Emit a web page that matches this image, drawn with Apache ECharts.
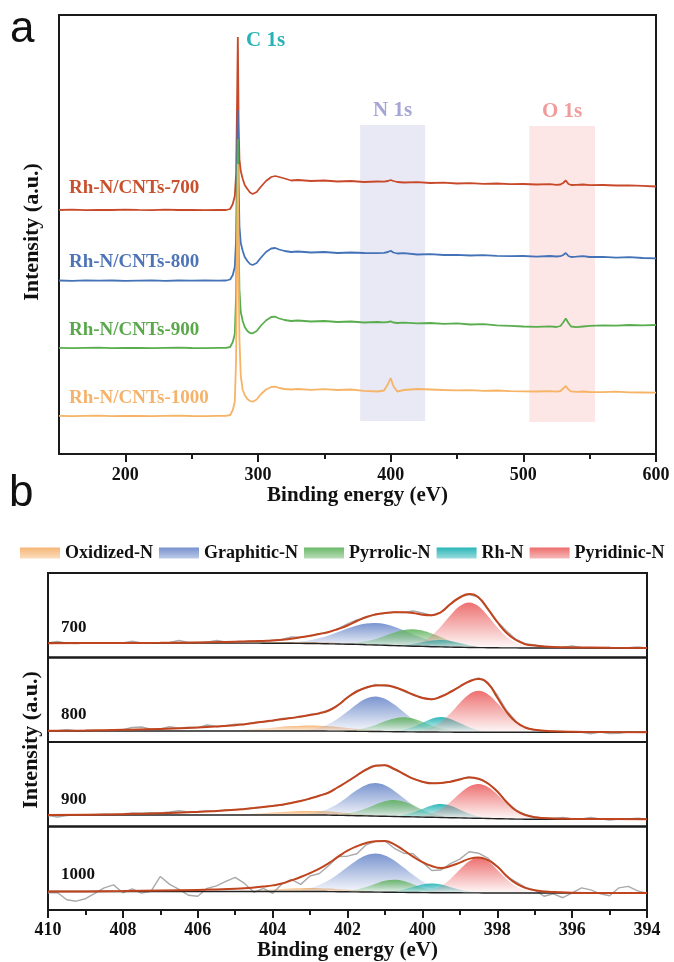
<!DOCTYPE html>
<html>
<head>
<meta charset="utf-8">
<script src="https://cdn.jsdelivr.net/npm/echarts@6/dist/echarts.min.js"></script>
<style>
  html, body { margin: 0; padding: 0; background: #fff; }
  #chart { width: 674px; height: 962px; }
</style>
</head>
<body>
<div id="chart"></div>
<script>
// ---------- (a) XPS survey spectra ----------
const surveyEV = [150,160,170,180,190,200,210,220,230,240,250,260,270,276,279,281,282.5,283.5,284.2,284.8,285.4,286,287,288.5,290,292,294,296,299,302,306,310,313,316,320,325,330,340,350,360,370,380,390,395,398,400,402,405,410,420,430,440,450,460,470,480,490,500,510,520,525,528,530,532,534,536,540,545,550,560,570,580,590,600];

const survey700 = [244.0,244.3,243.8,244.2,244.0,244.4,244.1,243.9,244.3,244.0,244.2,243.8,244.2,244.0,245.0,250,258,280,350,417,330,295,283,275,269,265,261.5,260,262,267,273,277,278,277,275.5,273.5,274,273,273.5,272.5,273,272,272.5,272.3,273.0,274,273.0,272.0,271.5,271.8,271,271.3,270.5,270.8,270.2,270.5,269.8,270,269.5,269.8,269.2,269.5,271,273.5,270,269,269.2,269.5,268.8,269,268.5,268.6,268.2,267.5];
const survey800 = [173.5,173.2,173.6,173.3,173.5,173.1,173.4,173.6,173.2,173.5,173.3,173.6,173.4,173.5,174.5,179,187,215,290,344,270,228,211,203,197,193,190,189,191,196,202,205.5,206,204.5,203,202,202.5,201.5,202,201,201.5,201,200.8,201.2,202,203.2,201.5,200.5,200.8,199.5,199.8,199,199.2,198.5,198.8,198.2,197.8,198,197.4,198,197.5,197.8,199,201,198,197,197.3,197.8,197,197.2,196.4,196.8,196.0,195.6];
const survey900 = [106.2,105.9,106.1,106.3,105.8,106.0,106.2,105.9,106.1,106.3,106.0,105.8,106.1,106.2,107,112,120,160,250,315,215,165,142,133,127,123,121,120.7,123,128,133.5,137,137.3,135.5,134,133,133.5,132.5,133,132,132.5,131.5,132,131.6,132,132.6,131.5,131,131.3,130.6,131,130.2,130.6,129.5,129.8,128.6,128.2,127.5,127.2,127.6,127,128,131.5,135.5,131,127.5,126.8,127.5,128.2,128.6,128.3,129,128.7,129];
const survey1000 = [38.2,37.9,38.1,38.3,37.8,38.0,38.2,37.9,38.1,38.3,38.0,37.8,38.1,38.2,39,44,52,95,210,290,180,115,78,64,59,55,53,52.3,54.5,59.5,64.5,67,67.3,66,65,64.5,65,64.2,64.8,64,64.5,63.2,62.5,63.5,70,76,68,62.5,64,65,64.5,64,63.6,63.8,63.2,63.5,62.8,62.7,62.5,62.8,62.3,63,65.5,68,64.5,62.6,62.2,62.5,62,61.8,62.3,61.7,61.5,61.3];

const surveyNames = ['Rh-N/CNTs-700', 'Rh-N/CNTs-800', 'Rh-N/CNTs-900', 'Rh-N/CNTs-1000'];
const surveyTicks = [200, 300, 400, 500, 600];
const surveyMinorTicks = [250, 350, 450, 550];

// ---------- (b) N 1s high-resolution spectra ----------
const nBE = [410,409,408,407,406,405.5,405,404.75,404.5,404.25,404,403.75,403.5,403.25,403,402.75,402.5,402.25,402,401.75,401.5,401.25,401,400.75,400.5,400.25,400,399.75,399.5,399.25,399,398.75,398.5,398.25,398,397.75,397.5,397.25,397,396.5,396,395,394];
const rawBE = [410,409.75,409.5,409.25,409,408.75,408.5,408.25,408,407.75,407.5,407.25,407,406.75,406.5,406.25,406,405.75,405.5,405.25,405,404.75,404.5,404.25,404,403.75,403.5,403.25,403,402.75,402.5,402.25,402,401.75,401.5,401.25,401,400.75,400.5,400.25,400,399.75,399.5,399.25,399,398.75,398.5,398.25,398,397.75,397.5,397.25,397,396.75,396.5,396.25,396,395.75,395.5,395.25,395,394.75,394.5,394.25,394];
const compBE = nBE.slice(6, 39);   // 405 ... 397 eV, where the fitted components live

// Shirley-type backgrounds
const baseline700 = [14.5,14.5,14.5,14.5,14.5,14.5,14.4,14.4,14.4,14.3,14.3,14.2,14.2,14.1,14.0,13.9,13.7,13.5,13.3,13.1,12.8,12.5,12.2,11.9,11.6,11.3,11.1,10.8,10.6,10.4,10.2,10.0,9.9,9.8,9.7,9.6,9.6,9.5,9.5,9.5,9.5,9.5,9.5];
const baseline800 = [11.0,11.0,11.0,11.0,11.0,11.0,11.0,11.0,11.0,11.0,11.0,11.0,11.0,11.0,11.0,10.95,10.9,10.85,10.8,10.7,10.6,10.5,10.4,10.3,10.2,10.1,10.0,9.95,9.9,9.85,9.8,9.75,9.7,9.7,9.7,9.7,9.7,9.7,9.7,9.7,9.7,9.7,9.7];
const baseline900 = [11.5,11.5,11.5,11.5,11.5,11.5,11.5,11.5,11.5,11.5,11.5,11.5,11.5,11.5,11.5,11.5,11.4,11.2,11.0,10.8,10.6,10.4,10.2,10.0,9.8,9.6,9.4,9.2,9.0,8.8,8.6,8.4,8.2,8.0,7.8,7.6,7.4,7.3,7.2,7.2,7.2,7.2,7.2];
const baseline1000 = [18.8,18.8,18.8,18.8,18.8,18.8,18.8,18.8,18.8,18.8,18.8,18.8,18.8,18.8,18.8,18.8,18.7,18.6,18.5,18.4,18.3,18.2,18.1,18.0,17.9,17.8,17.7,17.6,17.6,17.5,17.5,17.4,17.4,17.3,17.3,17.3,17.3,17.3,17.3,17.3,17.3,17.3,17.3];

// fitted envelopes
const envelope700 = [14.3,14.4,14.5,14.7,15.1,15.4,15.8,16.0,16.3,16.6,17.0,17.8,18.8,20.2,21.8,23.5,25.5,28.5,32.0,36.5,40.5,43.0,44.5,45.2,45.2,44.6,42.8,42.3,45.5,53.5,60.0,63.5,60.0,48.6,35.5,24.5,17.5,13.3,12.0,10.6,10.1,9.8,9.6];
const envelope800 = [11.2,11.5,12.2,13.0,14.5,15.5,16.8,17.8,19.0,20.3,21.5,22.8,24.0,25.5,27.0,28.8,31.5,37.0,44.5,50.5,54.5,56.5,56.8,54.8,51.5,47.5,44.0,42.8,45.5,50.0,55.5,60.5,63.0,58.5,44.5,30.0,20.0,14.5,12.2,10.8,10.2,9.9,9.8];
const envelope900 = [11.5,11.8,12.3,13.2,14.6,15.6,16.8,17.6,18.5,19.5,20.5,21.8,23.5,25.5,28.0,30.8,34.0,39.5,45.0,51.0,57.0,60.8,61.2,57.5,52.5,47.8,44.8,43.2,43.5,44.8,47.0,49.0,47.8,43.0,35.0,24.5,16.0,11.5,9.3,8.0,7.6,7.4,7.3];
const envelope1000 = [18.8,18.9,19.2,19.8,20.4,20.9,21.5,22.0,22.8,23.8,25.0,26.8,30.0,33.5,37.5,42.0,47.5,54.0,60.0,64.5,67.8,69.5,69.8,66.5,60.5,54.0,48.5,44.5,42.5,44.5,48.0,51.8,53.2,50.5,44.0,34.5,27.0,22.5,20.0,18.2,17.6,17.3,17.2];

// measured counts
const raw700 = [14.6,16.0,14.4,14.0,14.5,14.2,14.6,14.4,14.5,16.2,14.5,14.8,14.6,15.0,17.0,15.0,15.1,15.2,17.0,15.6,15.8,16.0,16.5,16.4,17.2,18.0,20.5,20.4,21.5,23.8,25.3,28.8,33.5,37.5,40.0,43.5,44.2,45.5,45.0,46.5,44.5,42.0,45.0,53.0,60.5,63.0,60.5,48.0,36.0,26.5,18.0,13.8,12.5,11.0,10.4,10.1,11.5,10.0,9.8,9.6,10.0,9.5,9.7,10.6,9.6];
const raw800 = [11.0,11.4,12.3,11.2,11.5,11.8,11.6,12.0,12.2,14.5,15.0,12.8,13.0,15.2,13.8,14.8,14.4,17.0,15.5,16.2,17.8,17.5,19.5,20.0,21.0,23.5,24.0,25.0,27.5,28.5,32.0,36.5,45.0,51.5,54.0,57.5,56.0,55.5,51.0,47.0,44.5,42.5,45.0,50.5,55.0,61.0,64.0,59.5,47.0,31.5,20.5,14.0,12.0,11.0,10.6,10.2,10.4,9.8,8.2,9.9,8.4,8.6,9.9,9.8,9.8];
const raw900 = [11.0,9.5,11.0,11.8,11.9,11.7,12.3,12.0,12.5,13.5,13.2,13.8,13.5,14.5,15.8,14.5,15.0,15.6,15.3,16.5,16.9,17.2,18.8,19.2,20.8,21.5,23.8,25.8,27.8,31.2,33.8,39.0,45.5,51.5,56.5,61.0,61.5,57.0,52.8,48.0,44.5,43.5,43.2,45.0,47.5,49.5,47.5,43.5,35.5,24.0,16.5,11.8,9.5,8.2,8.0,9.0,7.6,7.5,9.0,7.6,6.4,7.4,7.5,8.2,7.3];
const raw1000 = [17.5,17.8,10.5,9.0,11.5,17.0,22.5,25.5,17.5,21.5,17.2,19.0,34.0,26.0,21.0,15.0,14.0,22.0,24.5,29.0,33.0,27.0,18.0,22.0,17.0,26.5,31.0,26.0,34.5,37.0,45.0,54.0,54.5,57.0,66.0,69.5,70.0,62.5,57.5,57.0,48.5,40.0,40.5,47.0,51.5,59.0,57.5,52.5,44.0,34.0,28.5,23.0,20.5,14.0,16.5,12.5,17.5,22.5,20.5,16.5,14.5,22.5,24.0,19.5,17.0];

// fitted components (height above background), sampled on compBE
const oxidized700  = [0.1,0.2,0.4,0.6,0.8,1.1,1.3,1.4,1.5,1.4,1.3,1.1,0.8,0.6,0.4,0.2,0.1,0.1,0,0,0,0,0,0,0,0,0,0,0,0,0,0,0];
const graphitic700 = [0,0,0,0.1,0.2,0.5,1.0,1.9,3.3,5.5,8.4,11.9,15.6,18.9,21.2,22,21.2,18.9,15.6,11.9,8.4,5.5,3.3,1.9,1.0,0.5,0.2,0.1,0,0,0,0,0];
const pyrrolic700  = [0,0,0,0,0,0,0,0,0,0,0.1,0.3,0.7,1.7,3.5,6.1,9.6,13.2,15.9,17,15.9,13.2,9.6,6.1,3.5,1.7,0.7,0.3,0.1,0,0,0,0];
const rhN700       = [0,0,0,0,0,0,0,0,0,0,0,0,0,0,0,0,0.1,0.3,0.9,2.3,4.2,6.2,7,6.2,4.2,2.3,0.9,0.3,0.1,0,0,0,0];
const pyridinic700 = [0,0,0,0,0,0,0,0,0,0,0,0,0,0,0,0,0,0.2,0.6,2.0,5.1,11.2,20.6,31.8,41.3,45,41.3,31.8,20.6,11.2,5.1,2.0,0.6];

const oxidized800  = [0.7,1.2,1.8,2.5,3.3,4.2,4.9,5.3,5.5,5.3,4.9,4.2,3.3,2.5,1.8,1.2,0.7,0.4,0.2,0.1,0.1,0,0,0,0,0,0,0,0,0,0,0,0];
const graphitic800 = [0,0,0,0,0,0,0.2,0.6,1.5,3.5,7.1,12.6,19.7,27.1,32.8,35,32.8,27.1,19.7,12.6,7.1,3.5,1.5,0.6,0.2,0,0,0,0,0,0,0,0];
const pyrrolic800  = [0,0,0,0,0,0,0,0,0,0,0,0.2,0.6,1.7,3.6,6.6,10.3,13.3,14.5,13.3,10.3,6.6,3.6,1.7,0.6,0.2,0,0,0,0,0,0,0];
const rhN800       = [0,0,0,0,0,0,0,0,0,0,0,0,0,0,0,0,0.2,0.7,2.0,4.9,9.1,13.2,15,13.2,9.1,4.9,2.0,0.7,0.2,0,0,0,0];
const pyridinic800 = [0,0,0,0,0,0,0,0,0,0,0,0,0,0,0,0,0,0,0.2,0.6,1.8,4.7,10.3,19.0,29.3,38.1,41.5,38.1,29.3,19.0,10.3,4.7,1.8];

const oxidized900  = [0.5,0.9,1.3,1.8,2.4,3.0,3.5,3.9,4.0,3.9,3.5,3.0,2.4,1.8,1.3,0.9,0.5,0.3,0.2,0.1,0,0,0,0,0,0,0,0,0,0,0,0,0];
const graphitic900 = [0,0,0,0,0,0,0.2,0.6,1.5,3.3,6.7,11.9,18.6,25.6,31.0,33,31.0,25.6,18.6,11.9,6.7,3.3,1.5,0.6,0.2,0,0,0,0,0,0,0,0];
const pyrrolic900  = [0,0,0,0,0,0,0,0,0,0,0.2,0.7,1.9,4.1,7.6,11.7,15.1,16.5,15.1,11.7,7.6,4.1,1.9,0.7,0.2,0,0,0,0,0,0,0,0];
const rhN900       = [0,0,0,0,0,0,0,0,0,0,0,0,0,0,0,0,0.1,0.6,1.8,4.4,8.2,11.9,13.5,11.9,8.2,4.4,1.8,0.6,0.1,0,0,0,0];
const pyridinic900 = [0,0,0,0,0,0,0,0,0,0,0,0,0,0,0,0,0,0,0.1,0.5,1.5,3.9,8.5,15.7,24.3,31.5,34.3,31.5,24.3,15.7,8.5,3.9,1.5];

const oxidized1000  = [0.5,0.8,1.1,1.6,2.1,2.6,3.1,3.4,3.5,3.4,3.1,2.6,2.1,1.6,1.1,0.8,0.5,0.3,0.2,0.1,0,0,0,0,0,0,0,0,0,0,0,0,0];
const graphitic1000 = [0,0,0,0,0,0.3,0.7,1.7,3.6,6.7,11.5,17.9,25.1,32.1,37.1,39,37.1,32.1,25.1,17.9,11.5,6.7,3.6,1.7,0.7,0.3,0,0,0,0,0,0,0];
const pyrrolic1000  = [0,0,0,0,0,0,0,0,0,0,0.1,0.3,1.0,2.4,5.0,8.4,11.5,12.7,11.5,8.4,5.0,2.4,1.0,0.3,0.1,0,0,0,0,0,0,0,0];
const rhN1000       = [0,0,0,0,0,0,0,0,0,0,0,0,0,0,0,0.1,0.4,1.3,3.0,5.6,8.2,9.3,8.2,5.6,3.0,1.3,0.4,0.1,0,0,0,0,0];
const pyridinic1000 = [0,0,0,0,0,0,0,0,0,0,0,0,0,0,0,0,0,0,0,0.2,0.9,2.7,6.8,14.0,23.5,32.0,35.5,32.0,23.5,14.0,6.8,2.7,0.9];

const panelLabels = ['700', '800', '900', '1000'];
const componentNames = ['Oxidized-N', 'Graphitic-N', 'Pyrrolic-N', 'Rh-N', 'Pyridinic-N'];
const nTicksInterval = 2;

// ---------- styling ----------
const SERIF = '"Liberation Serif", "Times New Roman", serif';
const SANS = '"Liberation Sans", Arial, sans-serif';
const INK = '#1a1a1a';
const surveyColors = ['#c8492a', '#4472b7', '#5aad4e', '#f6b466'];
const componentRGB = ['245,178,110', '110,139,203', '98,180,96', '30,178,180', '236,100,100'];

function pairs(xs, ys) { return xs.map((x, i) => [x, ys[i]]); }
function fade(rgb) {
  return new echarts.graphic.LinearGradient(0, 0, 0, 1, [
    { offset: 0, color: 'rgba(' + rgb + ',0.92)' },
    { offset: 1, color: 'rgba(' + rgb + ',0.04)' }
  ]);
}
function swatch(rgb) {
  return new echarts.graphic.LinearGradient(0, 0, 0, 1, [
    { offset: 0, color: 'rgba(' + rgb + ',0.95)' },
    { offset: 1, color: 'rgba(' + rgb + ',0.45)' }
  ]);
}

const panels = [
  { base: baseline700,  env: envelope700,  raw: raw700,  comps: [oxidized700,  graphitic700,  pyrrolic700,  rhN700,  pyridinic700] },
  { base: baseline800,  env: envelope800,  raw: raw800,  comps: [oxidized800,  graphitic800,  pyrrolic800,  rhN800,  pyridinic800] },
  { base: baseline900,  env: envelope900,  raw: raw900,  comps: [oxidized900,  graphitic900,  pyrrolic900,  rhN900,  pyridinic900] },
  { base: baseline1000, env: envelope1000, raw: raw1000, comps: [oxidized1000, graphitic1000, pyrrolic1000, rhN1000, pyridinic1000] }
];

// ---------- layout ----------
const surveyGrid = { left: 59, top: 15, width: 597, height: 439 };
const nPanelTops = [573, 657.5, 742, 826.5];
const nPanelHeight = 84.5;

const grids = [Object.assign({ show: true, borderColor: INK, borderWidth: 2, backgroundColor: 'transparent' }, surveyGrid)];
nPanelTops.forEach(t => grids.push({ show: true, left: 48, width: 599, top: t, height: nPanelHeight, borderColor: INK, borderWidth: 2, backgroundColor: 'transparent' }));

const tickLabelStyle = { color: '#111', fontFamily: SERIF, fontWeight: 'bold', fontSize: 18 };
const axisNameStyle = { color: '#111', fontFamily: SERIF, fontWeight: 'bold', fontSize: 21 };

const xAxes = [
  {
    gridIndex: 0, type: 'value', position: 'bottom', min: 150, max: 600,
    axisLine: { show: false },
    axisTick: { show: true, customValues: surveyTicks, length: 8, lineStyle: { color: INK, width: 2 } },
    axisLabel: Object.assign({ customValues: surveyTicks, margin: 12 }, tickLabelStyle),
    splitLine: { show: false },
    name: 'Binding energy (eV)', nameLocation: 'middle', nameGap: 27, nameTextStyle: axisNameStyle
  },
  {
    gridIndex: 0, type: 'value', position: 'bottom', min: 150, max: 600,
    axisLine: { show: false },
    axisTick: { show: true, customValues: surveyMinorTicks, length: 5, lineStyle: { color: INK, width: 2 } },
    axisLabel: { show: false }, splitLine: { show: false }
  }
];
const yAxes = [{ gridIndex: 0, type: 'value', min: 0, max: 439, show: false }];

panels.forEach((p, i) => {
  const last = i === panels.length - 1;
  xAxes.push(last ? {
    gridIndex: i + 1, type: 'value', position: 'bottom', min: 394, max: 410, interval: nTicksInterval, inverse: true,
    axisLine: { show: false },
    axisTick: { show: true, length: 8, lineStyle: { color: INK, width: 2 } },
    minorTick: { show: true, splitNumber: 2, length: 5, lineStyle: { color: INK, width: 2 } },
    axisLabel: Object.assign({ margin: 11 }, tickLabelStyle),
    splitLine: { show: false }, minorSplitLine: { show: false },
    name: 'Binding energy (eV)', nameLocation: 'middle', nameGap: 29, nameTextStyle: axisNameStyle
  } : {
    gridIndex: i + 1, type: 'value', min: 394, max: 410, inverse: true, show: false, splitLine: { show: false }
  });
  yAxes.push({ gridIndex: i + 1, type: 'value', min: 0, max: nPanelHeight, show: false });
});

// ---------- series ----------
const series = [];

// shaded N 1s / O 1s windows
series.push({
  type: 'line', xAxisIndex: 0, yAxisIndex: 0, data: [], z: 1, silent: true,
  markArea: {
    silent: true,
    data: [
      [{ name: 'N 1s', coord: [377, 33], itemStyle: { color: '#e9e9f6' },
         label: { show: true, position: 'top', distance: 4, color: '#a5a5d6', fontFamily: SERIF, fontWeight: 'bold', fontSize: 21 } },
       { coord: [426, 329] }],
      [{ name: 'O 1s', coord: [504.5, 32], itemStyle: { color: '#fde6e6' },
         label: { show: true, position: 'top', distance: 4, color: '#f09c9c', fontFamily: SERIF, fontWeight: 'bold', fontSize: 21 } },
       { coord: [554, 328] }]
    ]
  }
});

[survey700, survey800, survey900, survey1000].forEach((ys, i) => {
  series.push({
    name: surveyNames[i], type: 'line', xAxisIndex: 0, yAxisIndex: 0, z: 2,
    data: pairs(surveyEV, ys), symbol: 'none', smooth: false,
    lineStyle: { color: surveyColors[i], width: 1.8 }, itemStyle: { color: surveyColors[i] }
  });
});

// one fitted component: filled band between the background and background + peak
function componentSeries(xi, yi, baseVals, vals, k) {
  let first = vals.findIndex(v => v > 0);
  let last = vals.length - 1 - vals.slice().reverse().findIndex(v => v > 0);
  first = Math.max(0, first - 1);
  last = Math.min(vals.length - 1, last + 1);
  return {
    type: 'custom', name: componentNames[k], xAxisIndex: xi, yAxisIndex: yi, z: 2, silent: true,
    itemStyle: { color: 'rgb(' + componentRGB[k] + ')' },
    data: compBE.map((x, j) => [x, baseVals[j], baseVals[j] + vals[j]]),
    encode: { x: 0, y: [1, 2] },
    renderItem: function (params, api) {
      if (params.dataIndex !== 0) return null;
      const pts = [];
      for (let j = first; j <= last; j++) pts.push(api.coord([compBE[j], baseVals[j] + vals[j]]));
      for (let j = last - 1; j > first; j--) pts.push(api.coord([compBE[j], baseVals[j]]));
      return {
        type: 'polygon',
        shape: { points: pts, smooth: 0.35 },
        style: { fill: fade(componentRGB[k]), stroke: null }
      };
    }
  };
}

panels.forEach((p, i) => {
  const xi = i + 2, yi = i + 1;
  const baseSlice = p.base.slice(6, 39);
  p.comps.forEach((vals, k) => series.push(componentSeries(xi, yi, baseSlice, vals, k)));
  series.push({
    type: 'line', xAxisIndex: xi, yAxisIndex: yi, z: 3, silent: true,
    data: pairs(rawBE, p.raw), symbol: 'none', smooth: false,
    lineStyle: { color: '#a9a9a9', width: 1.4 }
  });
  series.push({
    type: 'line', xAxisIndex: xi, yAxisIndex: yi, z: 4, silent: true,
    data: pairs(nBE, p.base), symbol: 'none', smooth: true,
    lineStyle: { color: '#222', width: 1.4 }
  });
  series.push({
    type: 'line', xAxisIndex: xi, yAxisIndex: yi, z: 5, silent: true,
    data: pairs(nBE, p.env), symbol: 'none', smooth: true,
    lineStyle: { color: '#c0441d', width: 2 }
  });
});

// ---------- texts ----------
const graphics = [
  { type: 'text', x: 10, y: 30, style: { text: 'a', font: '44px ' + SANS, fill: '#111', align: 'left', verticalAlign: 'middle' } },
  { type: 'text', x: 9, y: 494, style: { text: 'b', font: '44px ' + SANS, fill: '#111', align: 'left', verticalAlign: 'middle' } },
  { type: 'text', x: 246, y: 41, style: { text: 'C 1s', font: 'bold 21px ' + SERIF, fill: '#27b2b6', align: 'left', verticalAlign: 'middle' } },
  { type: 'text', x: 32, y: 232, rotation: Math.PI / 2, style: { text: 'Intensity (a.u.)', font: 'bold 22px ' + SERIF, fill: '#111', align: 'center', verticalAlign: 'middle' } },
  { type: 'text', x: 31, y: 740, rotation: Math.PI / 2, style: { text: 'Intensity (a.u.)', font: 'bold 22px ' + SERIF, fill: '#111', align: 'center', verticalAlign: 'middle' } }
];
const surveyLabelY = [188, 262, 330, 398];
const surveyLabelColors = ['#c8502c', '#4d74b6', '#5aa84b', '#f5b26b'];
surveyNames.forEach((t, i) => graphics.push({
  type: 'text', x: 69, y: surveyLabelY[i],
  style: { text: t, font: 'bold 19px ' + SERIF, fill: surveyLabelColors[i], align: 'left', verticalAlign: 'middle' }
}));
const panelLabelY = [628, 715, 800, 875];
panelLabels.forEach((t, i) => graphics.push({
  type: 'text', x: 61, y: panelLabelY[i],
  style: { text: t, font: 'bold 17px ' + SERIF, fill: '#111', align: 'left', verticalAlign: 'middle' }
}));

const chart = echarts.init(document.getElementById('chart'), null, { renderer: 'canvas' });
chart.setOption({
  animation: false,
  backgroundColor: '#fff',
  grid: grids,
  xAxis: xAxes,
  yAxis: yAxes,
  legend: {
    left: 15, top: 539, icon: 'rect', itemWidth: 40, itemHeight: 11, itemGap: 6,
    selectedMode: false,
    textStyle: { color: '#111', fontFamily: SERIF, fontWeight: 'bold', fontSize: 18 },
    data: componentNames.map((n, k) => ({ name: n, itemStyle: { color: swatch(componentRGB[k]), borderWidth: 0 } }))
  },
  series: series,
  graphic: graphics
});
</script>
</body>
</html>
